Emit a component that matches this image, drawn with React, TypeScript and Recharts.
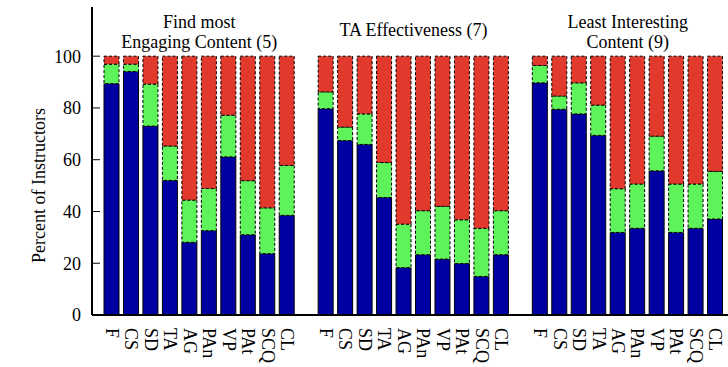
import React from "react";
import {
  BarChart,
  Bar,
  XAxis,
  YAxis,
  ReferenceArea,
} from "recharts";

// Feature names along the x axis, repeated for each question group
const features = ["F", "CS", "SD", "TA", "AG", "PAn", "VP", "PAt", "SCQ", "CL"];

const groupTitles = [
  ["Find most", "Engaging Content (5)"],
  ["TA Effectiveness (7)"],
  ["Least Interesting", "Content (9)"],
];

// Percent of instructors per answer, one array per group
const blueEngaging = [89.4, 94.1, 73.0, 52.0, 28.1, 32.6, 61.1, 31.0, 23.7, 38.5];
const greenEngaging = [7.5, 2.8, 16.2, 13.3, 16.3, 16.3, 16.1, 20.9, 17.7, 19.3];
const redEngaging = [3.1, 3.1, 10.8, 34.7, 55.6, 51.1, 22.8, 48.1, 58.6, 42.2];

const blueTA = [79.7, 67.4, 65.9, 45.4, 18.3, 23.3, 21.6, 19.9, 14.9, 23.3];
const greenTA = [6.5, 5.2, 11.8, 13.5, 16.8, 17.0, 20.4, 16.9, 18.6, 17.0];
const redTA = [13.8, 27.4, 22.3, 41.1, 64.9, 59.7, 58.0, 63.2, 66.5, 59.7];

const blueLeast = [89.7, 79.5, 77.7, 69.4, 31.9, 33.5, 55.7, 31.9, 33.5, 37.1];
const greenLeast = [6.7, 5.1, 12.0, 11.7, 16.9, 17.1, 13.4, 18.7, 17.1, 18.4];
const redLeast = [3.6, 15.4, 10.3, 18.9, 51.2, 49.4, 30.9, 49.4, 49.4, 44.5];

const yTicks = [0, 20, 40, 60, 80, 100];

const groups = [
  { blue: blueEngaging, green: greenEngaging, red: redEngaging },
  { blue: blueTA, green: greenTA, red: redTA },
  { blue: blueLeast, green: greenLeast, red: redLeast },
];

// One row per bar, with an empty slot between groups
const chartData: any[] = [];
groups.forEach((g, gi) => {
  if (gi > 0) chartData.push({ key: `gap${gi}`, label: "" });
  features.forEach((f, i) => {
    chartData.push({
      key: `${gi}-${f}`,
      label: f,
      blue: g.blue[i],
      green: g.green[i],
      red: g.red[i],
    });
  });
});

const labelOf: Record<string, string> = {};
chartData.forEach(d => (labelOf[d.key] = d.label));

const FONT = "'Liberation Serif', 'Times New Roman', serif";
const FONT_SIZE = 18;

const CategoryTick = ({ x, y, payload }: any) => {
  const text = labelOf[payload.value];
  if (!text) return null;
  return (
    <text
      x={x}
      y={y}
      dy="0.33em"
      transform={`rotate(90, ${x}, ${y})`}
      textAnchor="start"
      fontFamily={FONT}
      fontSize={FONT_SIZE}
      fill="#000"
    >
      {text}
    </text>
  );
};

const YTitle = ({ viewBox }: any) => {
  const cx = 39;
  // centred on the 0-100 span rather than the whole frame
  const cy = viewBox.y + viewBox.height * (1 - 50 / 119);
  return (
    <text
      x={cx}
      y={cy}
      dy="0.33em"
      transform={`rotate(-90, ${cx}, ${cy})`}
      textAnchor="middle"
      fontFamily={FONT}
      fontSize={FONT_SIZE}
      fill="#000"
    >
      Percent of Instructors
    </text>
  );
};

// Group heading drawn above the bars, one or two lines
const groupTitle = (lines: string[]) => ({ viewBox }: any) => {
  const cx = viewBox.x + viewBox.width / 2;
  const lineHeight = 20;
  const first = viewBox.y + 29 - (lines.length - 1) * 8;
  return (
    <text
      textAnchor="middle"
      fontFamily={FONT}
      fontSize={FONT_SIZE}
      fill="#000"
    >
      {lines.map((l, i) => (
        <tspan key={i} x={cx} y={first + i * lineHeight}>
          {l}
        </tspan>
      ))}
    </text>
  );
};

export default function App() {
  return (
    <div
      style={{
        position: "fixed",
        left: 0,
        top: 0,
        width: 728,
        height: 367,
        overflow: "hidden",
        background: "#fff",
      }}
    >
      <BarChart
        width={745}
        height={367}
        data={chartData}
        margin={{ top: 7, right: 10, bottom: 0, left: 0 }}
        barSize={15}
      >
        <XAxis
          dataKey="key"
          interval={0}
          height={52}
          padding={{ left: 10, right: 10 }}
          tickLine={false}
          tickMargin={7}
          axisLine={{ stroke: "#000", strokeWidth: 2 }}
          tick={<CategoryTick />}
        />
        <XAxis
          xAxisId="top"
          orientation="top"
          dataKey="key"
          height={0}
          padding={{ left: 10, right: 10 }}
          tick={false}
          tickLine={false}
          axisLine={{ stroke: "#000", strokeWidth: 2 }}
        />
        <YAxis
          width={92}
          domain={[0, 119]}
          ticks={yTicks}
          interval={0}
          tickSize={-8}
          tickMargin={19}
          axisLine={{ stroke: "#000", strokeWidth: 2 }}
          tickLine={{ stroke: "#000", strokeWidth: 1 }}
          tick={{ fontFamily: FONT, fontSize: FONT_SIZE, fill: "#000" }}
          label={<YTitle />}
        />
        <YAxis
          yAxisId="right"
          orientation="right"
          width={0}
          domain={[0, 119]}
          ticks={yTicks}
          interval={0}
          tickSize={-8}
          tick={false}
          axisLine={{ stroke: "#000", strokeWidth: 2 }}
          tickLine={{ stroke: "#000", strokeWidth: 1 }}
        />
        <Bar
          dataKey="blue"
          stackId="a"
          fill="#0000a2"
          stroke="#000"
          strokeWidth={1}
          isAnimationActive={false}
        />
        <Bar
          dataKey="green"
          stackId="a"
          fill="#5ef35a"
          stroke="#000"
          strokeWidth={1}
          strokeDasharray="3 2"
          isAnimationActive={false}
        />
        <Bar
          dataKey="red"
          stackId="a"
          fill="#e13a2c"
          stroke="#000"
          strokeWidth={1}
          strokeDasharray="3 2"
          isAnimationActive={false}
        />
        {groupTitles.map((lines, gi) => (
          <ReferenceArea
            key={gi}
            x1={`${gi}-${features[0]}`}
            x2={`${gi}-${features[features.length - 1]}`}
            y1={100}
            y2={119}
            fillOpacity={0}
            strokeOpacity={0}
            ifOverflow="visible"
            label={groupTitle(lines)}
          />
        ))}
      </BarChart>
    </div>
  );
}
